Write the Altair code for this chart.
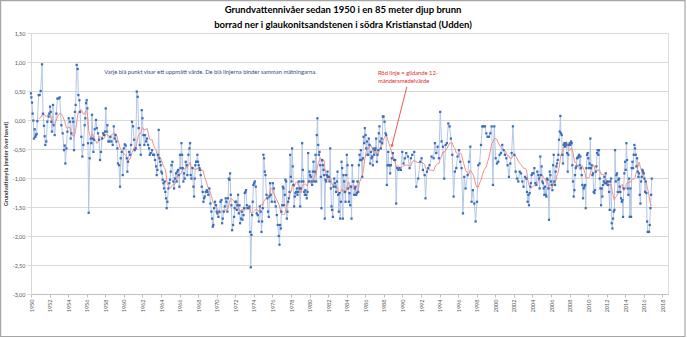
import altair as alt
import pandas as pd

# ---------------- data (decimal year, groundwater level m a.s.l.) ----------------
years_a = [1950.00, 1950.04, 1950.11, 1950.18, 1950.25, 1950.32, 1950.40, 1950.47, 1950.54, 1950.61,
           1950.68, 1950.83, 1950.93, 1951.04, 1951.19, 1951.29, 1951.40, 1951.47, 1951.54, 1951.65,
           1951.76, 1951.90, 1951.97, 1952.05, 1952.12, 1952.19, 1952.26, 1952.37, 1952.44, 1952.55,
           1952.73, 1952.84, 1952.98, 1953.09, 1953.27, 1953.41, 1953.56, 1953.63, 1953.70, 1953.81,
           1953.92, 1954.06, 1954.20, 1954.27, 1954.35, 1954.49, 1954.56, 1954.63, 1954.74, 1954.81,
           1954.92, 1955.03, 1955.10, 1955.21, 1955.28, 1955.42, 1955.53, 1955.64, 1955.78, 1955.85,
           1955.93, 1956.00, 1956.07, 1956.14, 1956.21, 1956.32, 1956.43, 1956.50, 1956.57, 1956.65,
           1956.72, 1956.79, 1956.86, 1957.00, 1957.08, 1957.22, 1957.33, 1957.44, 1957.54, 1957.65,
           1957.76, 1957.87, 1957.97, 1958.05, 1958.15, 1958.23, 1958.33, 1958.44, 1958.55, 1958.66,
           1958.80, 1958.91, 1959.02, 1959.09, 1959.19, 1959.30, 1959.37, 1959.48, 1959.59, 1959.66,
           1959.77, 1959.88, 1959.99, 1960.09, 1960.20, 1960.31, 1960.38, 1960.45, 1960.56, 1960.67,
           1960.78, 1960.88, 1960.99, 1961.10, 1961.17, 1961.28, 1961.39, 1961.49, 1961.60, 1961.71,
           1961.82, 1961.93, 1962.00, 1962.11, 1962.21, 1962.28, 1962.39, 1962.50, 1962.61, 1962.72,
           1962.79, 1962.90, 1963.04, 1963.15]
levels_a = [0.46, 0.39, 0.30, 0.11, -0.01, -0.32, -0.16, -0.29, -0.26, -0.24,
            -0.02, 0.43, 0.43, 0.50, 0.96, 0.11, -0.10, -0.28, -0.43, -0.37,
            -0.03, 0.06, 0.11, 0.23, 0.14, -0.03, -0.20, 0.26, -0.09, -0.26,
            0.11, 0.37, 0.37, 0.39, -0.09, -0.23, -0.52, -0.44, -0.75, -0.49,
            -0.20, 0.03, -0.03, -0.32, -0.23, 0.03, -0.03, -0.52, 0.14, 0.26,
            0.95, 0.88, 0.43, 0.34, 0.14, -0.29, -0.63, -0.43, -0.09, 0.03,
            0.29, 0.34, 0.20, -0.40, -1.60, -0.66, -0.32, -0.40, 0.09, -0.32,
            -0.55, -0.34, -0.16, 0.00, -0.14, -0.23, -0.34, -0.69, -0.55, -0.32,
            -0.23, -0.26, -0.20, 0.20, -0.20, -0.09, -0.37, -0.37, -0.29, -0.37,
            -0.43, -0.11, -0.32, -0.26, -0.37, -0.49, -0.75, -0.78, -1.15, -0.66,
            -0.55, -0.95, -0.49, -0.42, -0.44, -0.66, -0.89, -0.72, -0.55, -0.60,
            -0.43, -0.03, -0.11, -0.34, -0.52, -0.49, 0.49, 0.40, -0.14, -0.43,
            -0.60, 0.17, 0.03, -0.26, -0.43, -0.26, -0.37, -0.32, -0.43, -0.49,
            -0.60, -0.57, -0.52, -0.60]

years_b = [1963.25, 1963.36, 1963.47, 1963.54, 1963.61, 1963.68, 1963.75, 1963.82, 1963.90, 1963.97,
           1964.04, 1964.11, 1964.18, 1964.26, 1964.33, 1964.40, 1964.47, 1964.54, 1964.61, 1964.69,
           1964.79, 1964.90, 1964.97, 1965.05, 1965.12, 1965.23, 1965.33, 1965.41, 1965.51, 1965.62,
           1965.69, 1965.76, 1965.84, 1965.91, 1965.98, 1966.05, 1966.12, 1966.20, 1966.27, 1966.34,
           1966.41, 1966.48, 1966.55, 1966.66, 1966.77, 1966.84, 1966.95, 1967.06, 1967.13, 1967.20,
           1967.27, 1967.38, 1967.49, 1967.56, 1967.63, 1967.70, 1967.78, 1967.85, 1967.92, 1967.99,
           1968.06, 1968.14, 1968.21, 1968.28, 1968.39, 1968.49, 1968.57, 1968.64, 1968.71, 1968.82,
           1968.93, 1969.00, 1969.10, 1969.21, 1969.32, 1969.43, 1969.50, 1969.57, 1969.64, 1969.72,
           1969.82, 1969.93, 1970.00, 1970.07, 1970.18, 1970.29, 1970.40, 1970.51, 1970.58, 1970.65,
           1970.76, 1970.87, 1970.97, 1971.04, 1971.15, 1971.22, 1971.30, 1971.37, 1971.44, 1971.51,
           1971.58, 1971.66, 1971.76, 1971.87, 1971.94, 1972.01, 1972.09, 1972.16, 1972.23, 1972.30,
           1972.37, 1972.45, 1972.52, 1972.62, 1972.70, 1972.77, 1972.88, 1972.95, 1973.02, 1973.09,
           1973.16, 1973.24, 1973.31, 1973.42, 1973.52, 1973.59, 1973.67, 1973.74, 1973.81, 1973.88,
           1973.95, 1974.03, 1974.10, 1974.21, 1974.31, 1974.42, 1974.53, 1974.64, 1974.74, 1974.82,
           1974.89, 1974.96, 1975.03, 1975.10, 1975.18, 1975.25, 1975.36, 1975.46, 1975.53, 1975.61,
           1975.68, 1975.75, 1975.82, 1975.93, 1976.04, 1976.15, 1976.25, 1976.36, 1976.47, 1976.58,
           1976.68, 1976.76]
levels_b = [-0.60, -0.69, -0.80, -0.95, -0.86, -0.60, -0.17, -0.66, -0.72, -0.78,
            -0.89, -0.92, -1.03, -1.09, -1.18, -1.06, -1.24, -1.35, -1.52, -1.41,
            -1.18, -1.09, -1.03, -0.89, -0.78, -0.72, -1.06, -1.18, -1.01, -0.92,
            -1.06, -0.89, -0.86, -0.95, -1.15, -0.60, -0.83, -0.40, -0.60, -0.83,
            -1.06, -0.92, -1.01, -0.72, -0.78, -0.95, -0.60, -0.49, -0.40, -0.95,
            -1.01, -0.83, -1.15, -1.32, -1.01, -0.78, -0.72, -0.72, -0.60, -0.72,
            -0.78, -0.83, -0.86, -0.95, -1.15, -1.24, -1.41, -1.35, -1.32, -1.24,
            -1.21, -1.24, -1.29, -1.18, -1.44, -1.58, -1.70, -1.84, -1.81, -1.52,
            -1.41, -1.47, -1.58, -1.61, -1.67, -1.58, -1.41, -1.38, -1.78, -1.70,
            -1.58, -1.49, -1.35, -1.41, -1.58, -1.35, -1.01, -1.03, -0.92, -1.29,
            -1.47, -1.90, -1.81, -1.67, -1.52, -1.41, -1.41, -1.55, -1.47, -1.29,
            -1.61, -1.47, -1.78, -1.70, -1.58, -1.72, -1.64, -1.52, -1.26, -1.24,
            -1.21, -1.47, -1.52, -1.52, -1.49, -1.93, -2.54, -1.98, -1.64, -1.41,
            -1.12, -1.09, -1.06, -1.15, -1.61, -1.64, -1.75, -1.49, -1.58, -1.93,
            -1.75, -1.52, -0.60, -0.66, -0.89, -0.95, -1.29, -1.35, -1.58, -1.67,
            -1.32, -1.09, -1.29, -1.41, -1.09, -1.18, -1.41, -1.49, -1.64, -1.81,
            -2.00, -2.15]

years_c = [1976.83, 1976.90, 1976.97, 1977.05, 1977.12, 1977.19, 1977.26, 1977.33, 1977.40, 1977.48,
           1977.55, 1977.62, 1977.69, 1977.76, 1977.84, 1977.91, 1977.98, 1978.05, 1978.12, 1978.19,
           1978.27, 1978.34, 1978.41, 1978.48, 1978.55, 1978.63, 1978.70, 1978.77, 1978.84, 1978.91,
           1978.99, 1979.06, 1979.13, 1979.20, 1979.27, 1979.34, 1979.42, 1979.49, 1979.56, 1979.63,
           1979.70, 1979.78, 1979.85, 1979.92, 1979.99, 1980.06, 1980.13, 1980.21, 1980.28, 1980.35,
           1980.42, 1980.49, 1980.57, 1980.64, 1980.71, 1980.78, 1980.85, 1980.93, 1981.00, 1981.07,
           1981.14, 1981.21, 1981.28, 1981.36, 1981.43, 1981.50, 1981.57, 1981.64, 1981.72, 1981.79,
           1981.86, 1981.93, 1982.00, 1982.07, 1982.15, 1982.22, 1982.29, 1982.36, 1982.43, 1982.51,
           1982.58, 1982.65, 1982.72, 1982.79, 1982.86, 1982.94, 1983.01, 1983.08, 1983.15, 1983.22,
           1983.30, 1983.37, 1983.44, 1983.51, 1983.58, 1983.65, 1983.73, 1983.80, 1983.87, 1983.94,
           1984.01, 1984.09, 1984.16, 1984.23, 1984.30, 1984.37, 1984.44, 1984.52, 1984.59, 1984.66,
           1984.73, 1984.80, 1984.88, 1984.95, 1985.02, 1985.09, 1985.16, 1985.24, 1985.31, 1985.38,
           1985.45, 1985.52, 1985.59, 1985.67, 1985.74, 1985.81, 1985.88, 1985.95, 1986.03, 1986.10,
           1986.17, 1986.24, 1986.31, 1986.38, 1986.46, 1986.53, 1986.60, 1986.67, 1986.74, 1986.82,
           1986.89, 1986.96, 1987.03, 1987.10, 1987.17, 1987.25, 1987.32, 1987.39, 1987.46, 1987.53,
           1987.61, 1987.68, 1987.75, 1987.82, 1987.89, 1987.97, 1988.07, 1988.18, 1988.25, 1988.32,
           1988.40, 1988.47, 1988.54, 1988.61, 1988.68, 1988.76, 1988.86, 1988.97, 1989.11, 1989.22,
           1989.33, 1989.44, 1989.58, 1989.69, 1989.83, 1989.98, 1990.12, 1990.26, 1990.41]
levels_c = [-1.81, -1.87, -1.58, -1.47, -1.15, -1.18, -1.47, -1.29, -1.03, -1.06,
            -1.70, -1.58, -1.41, -1.35, -1.24, -0.60, -0.98, -1.06, -0.49, -0.80,
            -1.12, -1.49, -1.32, -1.26, -1.24, -1.18, -1.29, -1.24, -1.06, -1.18,
            -1.49, -1.18, -1.06, -0.40, -0.86, -1.06, -1.24, -1.29, -1.21, -1.29,
            -1.35, -1.24, -0.57, -1.06, -0.89, -0.95, -0.98, -1.06, -1.12, -0.89,
            -0.72, -1.06, -0.89, -0.60, -1.06, -0.26, 0.03, -0.43, -0.60, -0.55,
            -0.78, -0.98, -1.52, -0.69, -0.78, -0.86, -0.95, -1.70, -1.03, -1.06,
            -0.95, -0.89, -0.98, -0.98, -1.06, -0.49, -1.18, -1.49, -1.55, -1.67,
            -1.15, -1.01, -1.09, -1.15, -1.24, -1.06, -0.89, -1.29, -1.58, -1.26,
            -1.70, -1.41, -0.72, -0.83, -1.70, -0.95, -1.06, -1.24, -1.41, -0.95,
            -0.60, -0.78, -1.18, -1.41, -1.26, -1.47, -1.15, -1.70, -0.78, -1.06,
            -1.06, -1.29, -1.18, -1.15, -1.29, -1.26, -1.06, -1.24, -0.78, -0.60,
            -0.69, -0.52, -0.69, -0.98, -0.66, -0.29, -0.40, -0.14, -0.26, -0.49,
            -0.37, -0.60, -0.60, -0.32, -0.43, -0.75, -0.55, -0.66, -0.63, -0.78,
            -0.49, -0.60, -0.52, -0.49, -0.32, -0.72, -0.60, -0.52, -0.23, -0.11,
            -0.37, -0.49, -0.32, -0.40, 0.06, 0.06, -0.03, -0.23, -0.26, -1.12,
            -0.78, -0.55, -0.78, -0.78, -0.92, -0.78, -0.66, -0.57, -0.69, -0.69,
            -1.44, -0.83, -0.86, -0.83, -0.86, -0.55, -0.75, -0.66, -0.57]

years_d = [1990.59, 1990.77, 1990.91, 1991.06, 1991.27, 1991.49, 1991.70, 1991.92, 1992.06, 1992.21,
           1992.39, 1992.49, 1992.64, 1992.78, 1992.92, 1993.14, 1993.36, 1993.50, 1993.64, 1993.79,
           1993.93, 1994.07, 1994.22, 1994.36, 1994.50, 1994.65, 1994.79, 1994.94, 1995.08, 1995.22,
           1995.37, 1995.51, 1995.65, 1995.80, 1995.94, 1996.09, 1996.23, 1996.37, 1996.52, 1996.66,
           1996.80, 1997.02, 1997.16, 1997.31, 1997.45, 1997.59, 1997.74, 1997.88, 1998.03, 1998.17,
           1998.31, 1998.46, 1998.60, 1998.74, 1998.89, 1999.03, 1999.17, 1999.32, 1999.46, 1999.61,
           1999.75, 1999.89, 2000.04, 2000.18, 2000.32, 2000.47, 2000.61, 2000.75, 2000.90, 2001.04,
           2001.19, 2001.33, 2001.47, 2001.62, 2001.76, 2001.90, 2002.05, 2002.19, 2002.34, 2002.48,
           2002.62, 2002.77, 2002.91, 2003.05, 2003.20, 2003.34, 2003.41, 2003.48, 2003.56, 2003.63,
           2003.70, 2003.77, 2003.84, 2003.91, 2003.99]
levels_d = [-0.63, -0.83, -0.66, -0.60, -0.55, -1.15, -1.01, -0.72, -0.66, -0.86,
            -0.95, -1.35, -0.89, -0.83, -0.78, -0.63, -0.66, -0.40, -0.57, -0.46,
            -0.66, 0.14, -0.37, -0.46, -1.01, -0.43, -0.40, -0.06, -0.11, -0.32,
            -0.60, -1.32, -0.89, -0.83, -0.63, -0.52, -0.72, -0.83, -1.61, -0.98,
            -1.18, -0.95, -0.72, -0.46, -1.41, -1.21, -1.44, -1.75, -1.41, -0.78,
            -0.75, -0.43, -0.11, -0.11, -0.11, -0.23, -0.29, -0.29, -0.23, -0.11,
            -1.12, -0.11, -0.66, -0.75, -0.72, -0.60, -0.57, -0.43, -0.52, -0.60,
            -0.66, -0.78, -0.98, -0.75, -0.57, -0.11, -0.60, -0.89, -1.01, -1.06,
            -0.89, -0.92, -1.06, -1.15, -0.98, -1.01, -1.24, -1.41, -1.29, -1.47,
            -1.26, -1.15, -1.09, -0.95, -0.92]

years_e = [2004.10, 2004.21, 2004.31, 2004.42, 2004.53, 2004.64, 2004.71, 2004.78, 2004.85, 2004.92,
           2004.99, 2005.07, 2005.14, 2005.21, 2005.28, 2005.35, 2005.43, 2005.50, 2005.57, 2005.64,
           2005.71, 2005.79, 2005.86, 2005.93, 2006.00, 2006.07, 2006.15, 2006.22, 2006.29, 2006.36,
           2006.43, 2006.50, 2006.58, 2006.65, 2006.72, 2006.79, 2006.86, 2006.94, 2007.01, 2007.08,
           2007.15, 2007.22, 2007.29, 2007.37, 2007.44, 2007.51, 2007.58, 2007.65, 2007.73, 2007.80,
           2007.87, 2007.94, 2008.01, 2008.08, 2008.16, 2008.23, 2008.30, 2008.37, 2008.44, 2008.52,
           2008.59, 2008.66, 2008.73, 2008.80, 2008.88, 2008.95, 2009.02, 2009.09, 2009.16, 2009.23,
           2009.31, 2009.38, 2009.45, 2009.52, 2009.59, 2009.67, 2009.74, 2009.81, 2009.88, 2009.95,
           2010.02, 2010.10, 2010.17, 2010.24, 2010.31, 2010.38, 2010.46, 2010.53, 2010.60, 2010.67,
           2010.74, 2010.81, 2010.89, 2010.96, 2011.03, 2011.10, 2011.17, 2011.25, 2011.32, 2011.39,
           2011.46, 2011.53, 2011.60, 2011.68, 2011.75, 2011.82, 2011.89, 2011.96, 2012.04, 2012.11,
           2012.18, 2012.25, 2012.32, 2012.39, 2012.47, 2012.54, 2012.61, 2012.68, 2012.75, 2012.83,
           2012.90, 2012.97, 2013.04, 2013.11, 2013.19, 2013.26, 2013.33, 2013.40, 2013.47, 2013.54,
           2013.62, 2013.69, 2013.76, 2013.83, 2013.90, 2013.98, 2014.05, 2014.12, 2014.19, 2014.26,
           2014.33, 2014.41, 2014.48, 2014.55, 2014.62, 2014.69, 2014.77, 2014.84, 2014.91, 2014.98,
           2015.05, 2015.12, 2015.20, 2015.27, 2015.34, 2015.41, 2015.48, 2015.56, 2015.63, 2015.70,
           2015.77, 2015.84, 2015.91, 2015.99, 2016.06, 2016.13, 2016.20, 2016.27, 2016.35, 2016.42,
           2016.49, 2016.56, 2016.63, 2016.71, 2016.78, 2016.85]
levels_e = [-0.92, -0.83, -1.09, -1.12, -0.89, -0.95, -1.01, -1.18, -0.63, -0.95,
            -0.80, -1.06, -1.09, -1.18, -1.29, -1.15, -1.29, -1.32, -1.01, -1.03,
            -1.18, -1.72, -0.89, -0.95, -1.06, -1.12, -1.21, -0.78, -0.60, -1.06,
            -1.12, -0.89, -0.80, -0.75, -0.69, -0.60, -0.34, -0.20, 0.07, -0.23,
            -0.26, -0.60, -0.75, -0.43, -0.40, -0.46, -0.40, -0.43, -0.57, -0.89,
            -0.60, -0.43, -0.40, -0.43, -0.37, -0.40, -0.78, -1.06, -1.32, -1.21,
            -0.95, -0.83, -0.80, -0.66, -0.65, -0.63, -0.60, -0.78, -0.63, -0.83,
            -0.95, -1.12, -1.35, -1.18, -1.15, -1.12, -1.52, -0.83, -0.60, -0.57,
            -0.66, -0.83, -0.75, -0.32, -0.83, -0.78, -0.95, -0.92, -1.24, -1.26,
            -1.21, -0.89, -0.80, -0.57, -0.52, -0.60, -0.52, -1.01, -1.18, -1.47,
            -1.18, -1.32, -1.12, -1.06, -0.98, -1.09, -0.92, -1.09, -1.06, -1.12,
            -1.06, -1.24, -1.55, -1.06, -1.01, -1.78, -1.87, -1.70, -1.58, -1.55,
            -0.52, -1.06, -0.95, -0.92, -1.24, -1.03, -1.01, -1.15, -1.24, -1.35,
            -1.41, -1.38, -1.67, -1.18, -0.92, -0.72, -0.86, -0.40, -0.69, -1.18,
            -1.29, -1.01, -1.67, -1.18, -1.67, -0.83, -0.72, -0.83, -0.60, -0.43,
            -0.49, -0.60, -0.80, -0.66, -0.89, -0.98, -0.92, -1.29, -1.44, -1.06,
            -0.98, -0.86, -0.89, -0.92, -1.01, -1.24, -1.06, -1.26, -1.75, -1.93,
            -1.93, -1.93, -1.81, -1.52, -1.29, -1.01]

x_ticks = list(range(1950, 2019, 2))
y_ticks = [1.5, 1.0, 0.5, 0.0, -0.5, -1.0, -1.5, -2.0, -2.5, -3.0]

title_lines = ["Grundvattennivåer sedan 1950 i en 85 meter djup brunn",
               "borrad ner i glaukonitsandstenen i södra Kristianstad (Udden)"]
y_title = "Grundvattenyta (meter över havet)"

note_blue = ["Varje blå punkt visar ett uppmätt värde. De blå linjerna binder samman mätningarna."]
note_blue_year = [1957.9]
note_blue_level = [0.82]

note_red = ["Röd linje = glidande 12-", "måndersmedelvärde"]
note_red_year = [1987.36, 1987.36]
note_red_level = [0.805, 0.678]

arrow_year = [1990.48, 1988.86]
arrow_level = [0.574, -0.448]

# ---------------- chart ----------------
years = years_a + years_b + years_c + years_d + years_e
levels = levels_a + levels_b + levels_c + levels_d + levels_e
df = pd.DataFrame({"year": years, "level": levels})

FONT = "Lato"
xs = alt.Scale(domain=[1950, 2018.6], nice=False, zero=False)
ys = alt.Scale(domain=[-3, 1.5], nice=False, zero=False)

x_axis = alt.Axis(values=x_ticks, tickCount=100, format="d", labelAngle=-90, labelFontSize=5.5,
                  labelFont=FONT, labelColor="#595959", grid=False, domainColor="#bfbfbf",
                  tickColor="#bfbfbf", tickSize=3, labelPadding=2, labelOverlap=False, title=None)
y_axis = alt.Axis(values=y_ticks, tickCount=50, labelFontSize=5.5, labelFont=FONT, labelColor="#595959",
                  labelExpr="(datum.value < 0 ? '-' : '') + replace(format(abs(datum.value), '.2f'), '.', ',')",
                  labelOverlap=False,
                  grid=True, gridColor="#d9d9d9", gridWidth=1, domainColor="#d9d9d9",
                  tickColor="#d9d9d9", tickSize=4, labelPadding=2,
                  title=y_title, titleFont=FONT, titleFontSize=5.5, titleFontWeight="bold",
                  titleColor="#404040", titlePadding=4)

base = alt.Chart(df)

blue_line = base.mark_line(color="#b4c7e7", strokeWidth=1).encode(
    x=alt.X("year:Q", scale=xs, axis=x_axis),
    y=alt.Y("level:Q", scale=ys, axis=y_axis),
)

points = base.mark_point(shape="square", filled=True, size=5, color="#3a6db5", opacity=1).encode(
    x=alt.X("year:Q", scale=xs, axis=x_axis),
    y=alt.Y("level:Q", scale=ys, axis=y_axis),
)

red_line = base.transform_window(
    ma="mean(level)", rn="row_number()", frame=[-11, 0], sort=[alt.SortField("year")]
).transform_filter("datum.rn >= 12").mark_line(color="#f08e8a", strokeWidth=1).encode(
    x=alt.X("year:Q", scale=xs, axis=x_axis),
    y=alt.Y("ma:Q", scale=ys, axis=y_axis),
)

blue_note = alt.Chart(pd.DataFrame({"t": note_blue, "year": note_blue_year, "level": note_blue_level})).mark_text(
    align="left", baseline="middle", font=FONT, fontSize=5.8, color="#2f4f7f"
).encode(x=alt.X("year:Q", scale=xs, axis=x_axis), y=alt.Y("level:Q", scale=ys, axis=y_axis), text="t:N")

red_note = alt.Chart(pd.DataFrame({"t": note_red, "year": note_red_year, "level": note_red_level})).mark_text(
    align="left", baseline="middle", font=FONT, fontSize=5.8, color="#e0302a"
).encode(x=alt.X("year:Q", scale=xs, axis=x_axis), y=alt.Y("level:Q", scale=ys, axis=y_axis), text="t:N")

arrow_df = pd.DataFrame({"year": [arrow_year[0]], "level": [arrow_level[0]],
                         "year2": [arrow_year[1]], "level2": [arrow_level[1]]})
arrow_shaft = alt.Chart(arrow_df).mark_rule(color="#e0302a", strokeWidth=0.8).encode(
    x=alt.X("year:Q", scale=xs, axis=x_axis), y=alt.Y("level:Q", scale=ys, axis=y_axis),
    x2="year2:Q", y2="level2:Q")
arrow_head = alt.Chart(arrow_df).mark_point(shape="triangle-up", filled=True, size=14,
                                            color="#e0302a", angle=194.5).encode(
    x=alt.X("year2:Q", scale=xs, axis=x_axis), y=alt.Y("level2:Q", scale=ys, axis=y_axis))

title_df = pd.DataFrame({"t": title_lines, "row": [0, 1]})
title1 = alt.Chart(title_df).transform_filter("datum.row == 0").mark_text(
    align="center", baseline="middle", font=FONT, fontSize=9.5, fontWeight="bold", color="#000000"
).encode(x=alt.value(312), y=alt.value(-23.5), text="t:N")
title2 = alt.Chart(title_df).transform_filter("datum.row == 1").mark_text(
    align="center", baseline="middle", font=FONT, fontSize=9.5, fontWeight="bold", color="#000000"
).encode(x=alt.value(312), y=alt.value(-8), text="t:N")

frame = alt.Chart(pd.DataFrame({"k": [0]})).mark_rect(fill=None, stroke="#a6a6a6", strokeWidth=1.2).encode(
    x=alt.value(-30.4), x2=alt.value(654), y=alt.value(-32.4), y2=alt.value(303.5))

chart = alt.layer(
    blue_line, frame, red_line, points, blue_note, red_note, arrow_shaft, arrow_head, title1, title2
).properties(
    width=637, height=261,
    padding={"left": 31, "top": 33, "right": 19, "bottom": 44},
    autosize=alt.AutoSizeParams(type="none"),
).configure_view(stroke=None).configure(background="white")

chart.save("out.html", embed_options={"renderer": "svg", "actions": False})
